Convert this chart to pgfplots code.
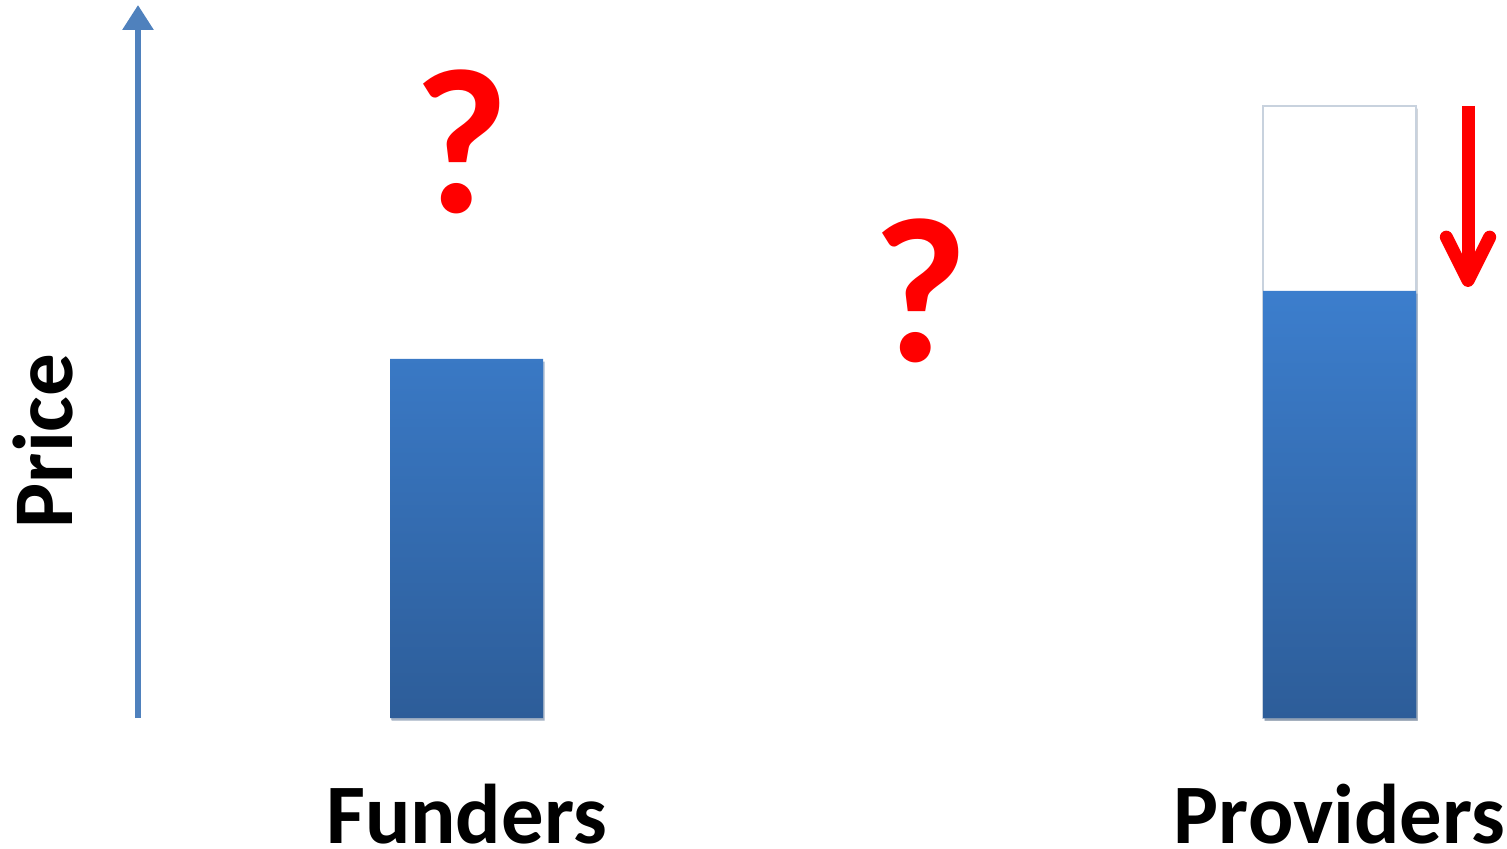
\documentclass[border=0pt]{standalone}
\usepackage{fontspec}
\setmainfont{Carlito}
\usepackage{pgfplots}
\pgfplotsset{compat=1.18}
\usetikzlibrary{arrows.meta,shadows}
\definecolor{axisblue}{RGB}{79,129,189}
\definecolor{bartop}{RGB}{60,126,205}
\definecolor{barbot}{RGB}{45,93,153}
\definecolor{boxgray}{RGB}{200,210,222}
\definecolor{qred}{RGB}{255,0,0}
\begin{document}
\begin{tikzpicture}
\begin{axis}[
  scale only axis, width=410.7pt, height=213.9pt,
  xmin=138, xmax=1507, ymin=0, ymax=713,
  clip=false,
  axis x line=bottom, axis y line=left,
  axis line style={draw=none},
  ytick=\empty,
  xtick={466.5,1339.5}, xticklabels={Funders,Providers},
  major tick length=0pt,
  xticklabel style={font=\fontsize{25.4}{28}\selectfont\bfseries, anchor=base, inner sep=0pt, yshift=-37.5pt},
  ylabel={Price},
  ylabel style={font=\fontsize{25.5}{28}\selectfont\bfseries, inner sep=0pt, at={(axis description cs:-0.0482,0.3885)}, anchor=base},
]
% old provider price (white) and current prices
\addplot[ybar, bar width=153, bar shift=0pt, fill=white, draw=boxgray, line width=0.4pt,
  drop shadow={shadow xshift=0.5pt, shadow yshift=-0.8pt, opacity=0.3}]
  coordinates {(1339.5,612)};
\addplot[ybar, bar width=153, bar shift=0pt, draw=none, top color=bartop, bottom color=barbot,
  drop shadow={shadow xshift=0.5pt, shadow yshift=-0.8pt, opacity=0.3}]
  coordinates {(466.5,359) (1339.5,427)};

\draw[axisblue, line width=1.8pt, -{Triangle[length=7.5pt,width=9pt]}] (axis cs:138,0) -- (axis cs:138,713);
\draw[qred, line width=3.9pt, -{Straight Barb[round,length=13pt,width=13pt]}] (axis cs:1468,612) -- (axis cs:1468,431);
\node[text=qred, anchor=base, inner sep=0pt, font=\fontsize{62}{66}\selectfont\bfseries] at (axis cs:461,505) {?};
\node[text=qred, anchor=base, inner sep=0pt, font=\fontsize{62}{66}\selectfont\bfseries] at (axis cs:920,356) {?};

\coordinate (bl) at (axis cs:0,-130);
\coordinate (tr) at (axis cs:1507,718);
\end{axis}
\pgfresetboundingbox
\path[use as bounding box] (bl) rectangle (tr);
\end{tikzpicture}
\end{document}
